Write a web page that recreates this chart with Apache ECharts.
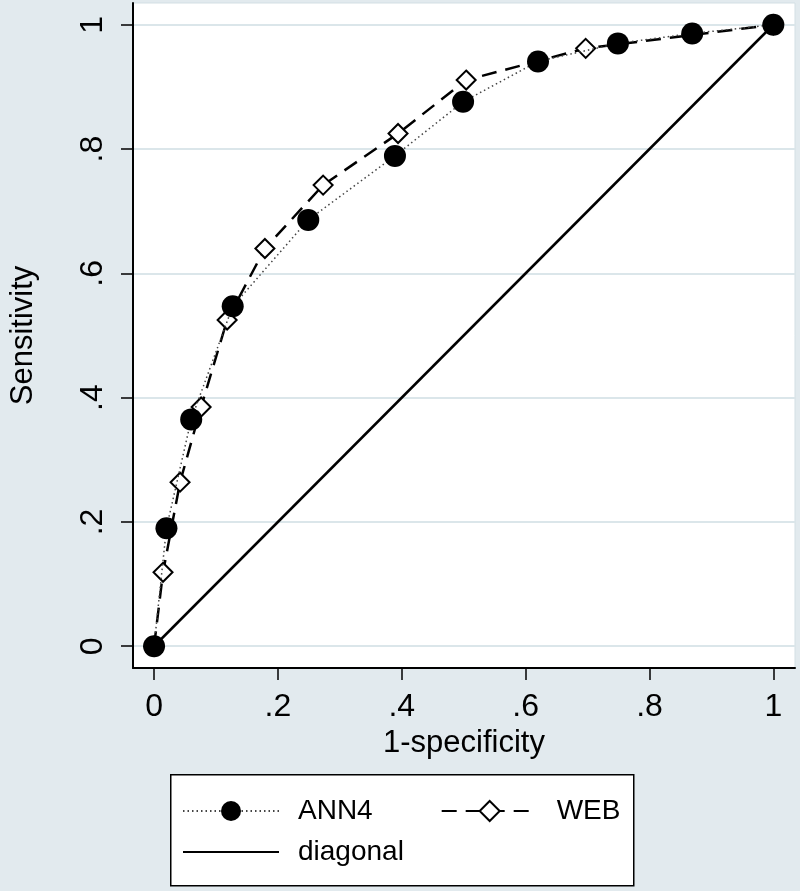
<!DOCTYPE html>
<html>
<head>
<meta charset="utf-8">
<script src="https://cdn.jsdelivr.net/npm/echarts@6/dist/echarts.min.js"></script>
<style>
html,body{margin:0;padding:0;background:#e2eaee;}
#chart{width:800px;height:891px;}
</style>
</head>
<body>
<div id="chart"></div>
<script>
// ---- data ----
var ann4X = [0, 0.02, 0.06, 0.127, 0.249, 0.389, 0.499, 0.62, 0.749, 0.869, 1];
var ann4Y = [0, 0.19, 0.365, 0.547, 0.686, 0.789, 0.876, 0.941, 0.970, 0.986, 1];
var webX  = [0, 0.0145, 0.042, 0.076, 0.118, 0.179, 0.273, 0.394, 0.504, 0.697, 1];
var webY  = [0, 0.119, 0.264, 0.385, 0.525, 0.640, 0.742, 0.825, 0.911, 0.962, 1];
var diagX = [0, 1];
var diagY = [0, 1];
var tickValues = [0, 0.2, 0.4, 0.6, 0.8, 1];
var tickLabels = ['0', '.2', '.4', '.6', '.8', '1'];
var seriesNames = ['ANN4', 'WEB', 'diagonal'];
var xTitle = '1-specificity';
var yTitle = 'Sensitivity';

function pairs(xs, ys){ return xs.map(function(x,i){ return [x, ys[i]]; }); }
function fmt(v){ var i = tickValues.indexOf(v); return i >= 0 ? tickLabels[i] : ''; }

var FONT = 'Liberation Sans, Arial, sans-serif';
var chart = echarts.init(document.getElementById('chart'), null, {renderer:'canvas'});
chart.setOption({
  backgroundColor: '#e2eaee',
  animation: false,
  textStyle: {fontFamily: FONT},
  grid: {left: 131, right: 5, top: 3, bottom: 223, show: true, backgroundColor: '#ffffff', borderColor: '#d3dfe4', borderWidth: 1},
  xAxis: {
    type: 'value', min: -0.034, max: 1.035,
    name: xTitle, nameLocation: 'middle', nameGap: 58,
    nameTextStyle: {fontSize: 31, color: '#000', fontFamily: FONT},
    axisLine: {onZero: false, lineStyle: {color: '#000', width: 2}},
    axisTick: {show: true, length: 12, customValues: tickValues, lineStyle: {color: '#000', width: 1.5}},
    axisLabel: {customValues: tickValues, formatter: fmt, fontSize: 32, color: '#000', margin: 23, fontFamily: FONT},
    splitLine: {show: false}
  },
  yAxis: {
    type: 'value', min: -0.035, max: 1.035,
    name: yTitle, nameLocation: 'middle', nameGap: 94,
    nameTextStyle: {fontSize: 31, color: '#000', fontFamily: FONT},
    axisLine: {onZero: false, lineStyle: {color: '#000', width: 2}},
    axisTick: {show: true, length: 12, customValues: tickValues, lineStyle: {color: '#000', width: 1.5}},
    axisLabel: {customValues: tickValues, formatter: fmt, fontSize: 32, color: '#000', margin: 24, rotate: 90, fontFamily: FONT},
    splitLine: {show: true, lineStyle: {color: '#dbe6ea', width: 2}}
  },
  legend: [
    {
      data: [seriesNames[0], seriesNames[1]], orient: 'horizontal', left: 182, top: 797, padding: 0,
      itemWidth: 96, itemHeight: 25, itemGap: 68,
      textStyle: {fontSize: 28, color: '#000', fontFamily: FONT, padding: [0,0,0,14]}
    },
    {
      data: [{name: seriesNames[2], itemStyle: {color: 'rgba(0,0,0,0)', borderColor: 'rgba(0,0,0,0)', opacity: 0}}],
      orient: 'horizontal', left: 182, top: 838, padding: 0,
      itemWidth: 96, itemHeight: 25,
      textStyle: {fontSize: 28, color: '#000', fontFamily: FONT, padding: [0,0,0,14]}
    }
  ],
  graphic: [{
    type: 'rect', z: -1, left: 170, top: 774,
    shape: {width: 463, height: 111},
    style: {fill: '#ffffff', stroke: '#000', lineWidth: 1.5}
  }],
  series: [
    {
      name: seriesNames[2], type: 'line', z: 2, data: pairs(diagX, diagY),
      symbol: 'none', lineStyle: {color: '#000', width: 2.5, type: 'solid'}, itemStyle: {color: '#000'}
    },
    {
      name: seriesNames[1], type: 'line', z: 3, data: pairs(webX, webY),
      symbol: 'diamond', symbolSize: 19,
      itemStyle: {color: '#ffffff', borderColor: '#000', borderWidth: 2},
      lineStyle: {color: '#000', width: 2.5, type: [15, 9]}
    },
    {
      name: seriesNames[0], type: 'line', z: 4, data: pairs(ann4X, ann4Y),
      symbol: 'circle', symbolSize: 22,
      itemStyle: {color: '#000', borderColor: '#000', borderWidth: 0},
      lineStyle: {color: '#444', width: 1.5, type: [1.5, 3]}
    }
  ]
});
</script>
</body>
</html>
